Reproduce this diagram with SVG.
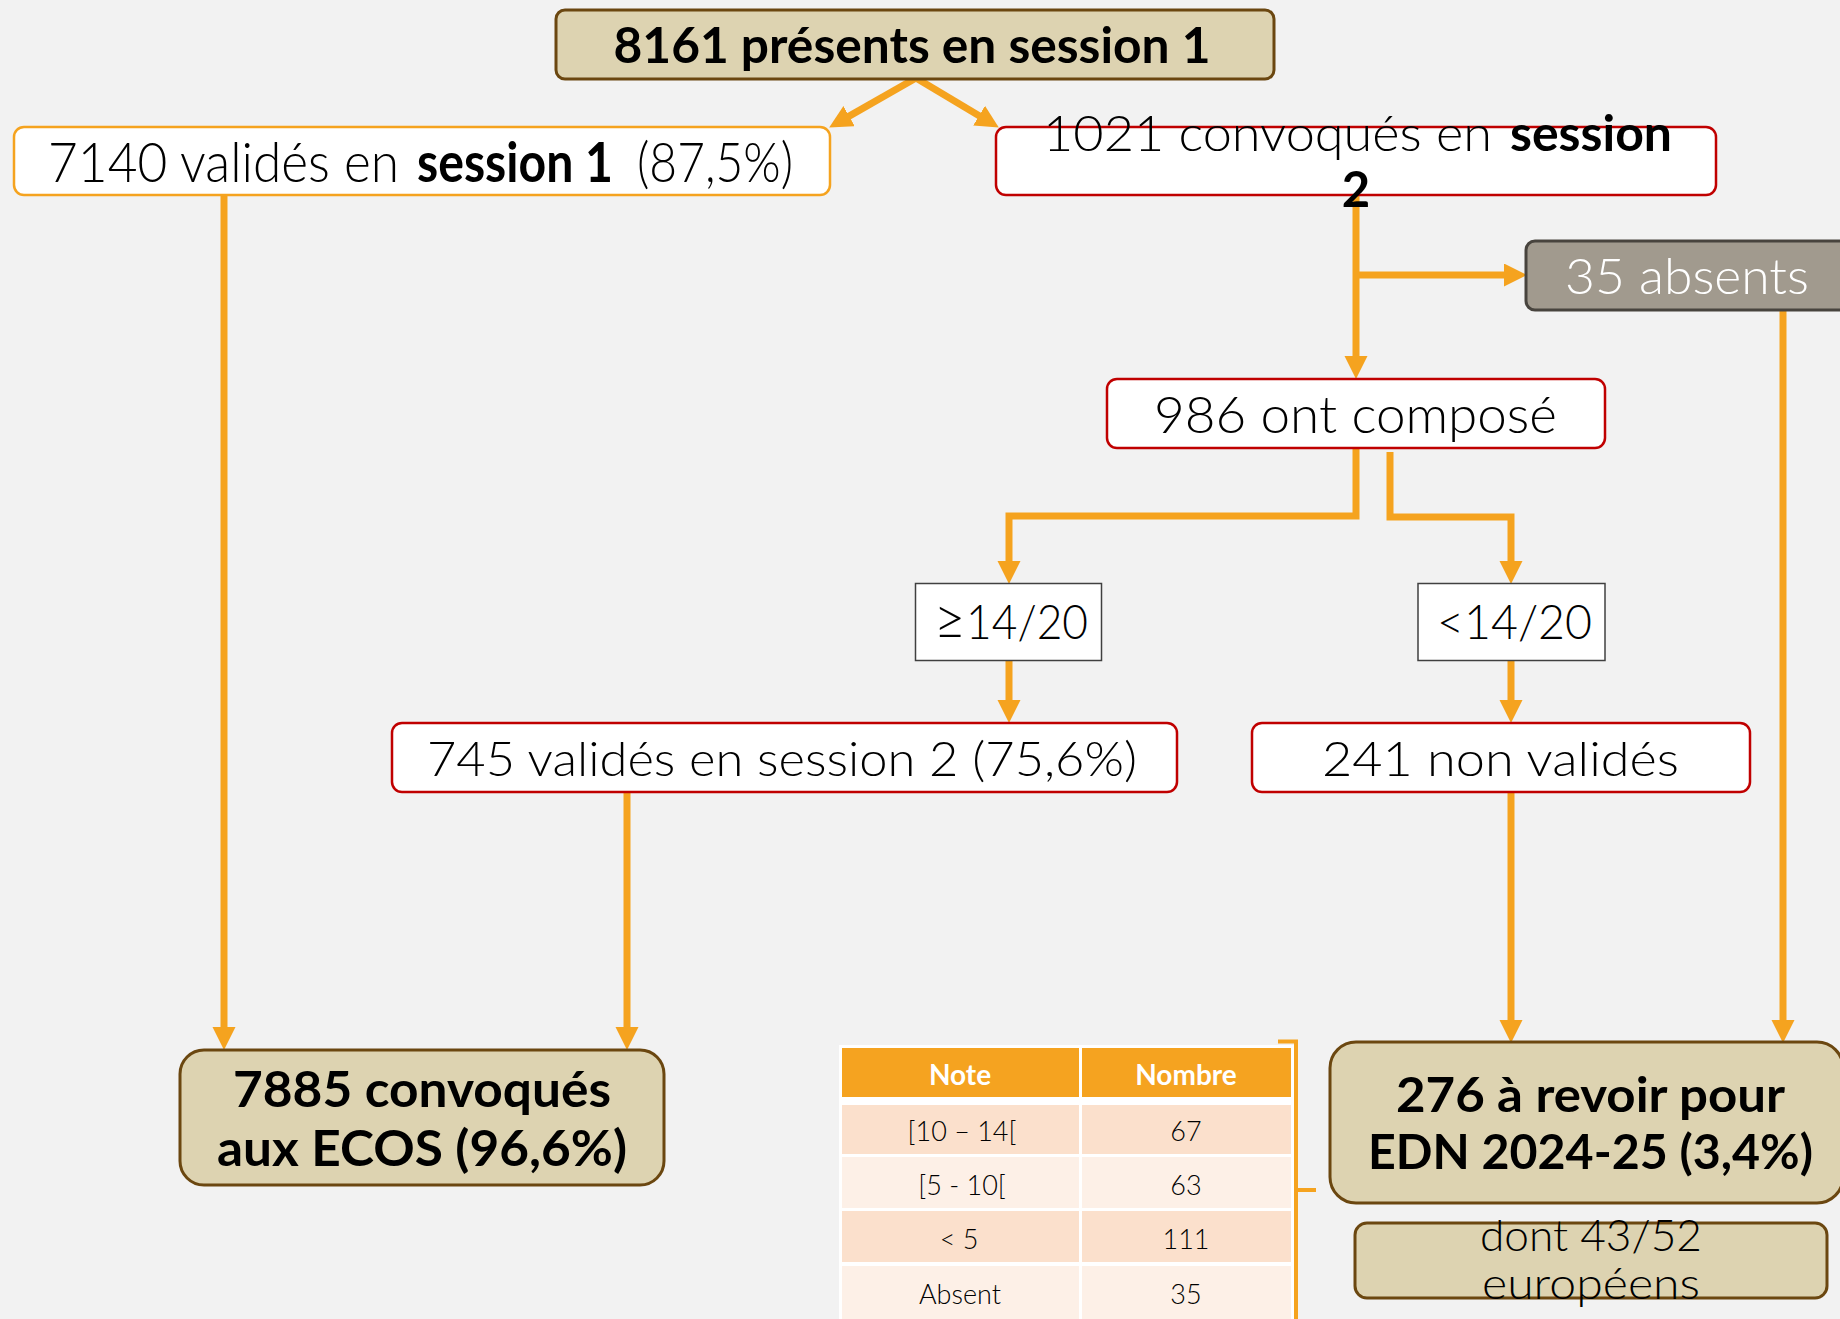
<svg xmlns="http://www.w3.org/2000/svg" width="1840" height="1319" viewBox="0 0 1840 1319">
<style>
.l{font-family:Lato,"Open Sans","Liberation Sans",sans-serif;font-weight:300;fill:#000}
.b{font-family:Lato,"Open Sans","Liberation Sans",sans-serif;font-weight:700;fill:#000}
.tan{fill:#DDD3B1;stroke:#6B4710;stroke-width:3}
.wo{fill:#fff;stroke:#F5A31F;stroke-width:2.5}
.wr{fill:#fff;stroke:#C00000;stroke-width:2.5}
.gr{fill:#A19A8E;stroke:#48443E;stroke-width:3}
.cd{fill:#fff;stroke:#404040;stroke-width:1.5}
.c{fill:none;stroke:#F5A31F;stroke-width:7;stroke-linejoin:miter}
.th{fill:#F5A320}
.pk{fill:#FBE0CC}
.lt{fill:#FDF0E7}
.tt{font-family:Lato,"Open Sans","Liberation Sans",sans-serif;font-weight:300;font-size:27px;fill:#000;text-anchor:middle}
.tb{font-family:Lato,"Open Sans","Liberation Sans",sans-serif;font-weight:700;font-size:28px;fill:#fff;text-anchor:middle}
</style>
<defs>
<marker id="ah" markerUnits="userSpaceOnUse" markerWidth="24" markerHeight="24" refX="2" refY="11.5" orient="auto">
<path d="M0,0 L23,11.5 L0,23 z" fill="#F5A31F"/>
</marker>
</defs>
<rect x="0" y="0" width="1840" height="1319" fill="#F2F2F2"/>

<g id="connectors">
<path class="c" d="M916,78 L847.4,117.1" marker-end="url(#ah)"/>
<path class="c" d="M916,78 L980.8,116.7" marker-end="url(#ah)"/>
<path class="c" d="M224,195 V1029" marker-end="url(#ah)"/>
<path class="c" d="M1356,195 V358" marker-end="url(#ah)"/>
<path class="c" d="M1356,275 H1506" marker-end="url(#ah)"/>
<path class="c" d="M1783,310 V1022" marker-end="url(#ah)"/>
<path class="c" d="M1356,448 V516 H1009 V563" marker-end="url(#ah)"/>
<path class="c" d="M1390,452 V517 H1511 V563" marker-end="url(#ah)"/>
<path class="c" d="M1009,661 V702" marker-end="url(#ah)"/>
<path class="c" d="M1511,661 V702" marker-end="url(#ah)"/>
<path class="c" d="M627,792 V1029" marker-end="url(#ah)"/>
<path class="c" d="M1511,792 V1022" marker-end="url(#ah)"/>
</g>

<g id="n-presents">
<rect class="tan" x="556" y="10" width="718" height="69" rx="9"/>
<text class="b" x="912" y="63" font-size="49" text-anchor="middle" textLength="597" lengthAdjust="spacingAndGlyphs">8161 présents en session 1</text>
</g>

<g id="n-valides1">
<rect class="wo" x="14" y="127" width="816" height="68" rx="10"/>
<text class="l" x="48" y="182" font-size="55" textLength="351" lengthAdjust="spacingAndGlyphs">7140 validés en</text>
<text class="b" x="417" y="182" font-size="55" textLength="196" lengthAdjust="spacingAndGlyphs">session 1</text>
<text class="l" x="637" y="182" font-size="55" textLength="156" lengthAdjust="spacingAndGlyphs">(87,5%)</text>
</g>

<g id="n-convoques2">
<rect class="wr" x="996" y="127" width="720" height="68" rx="10"/>
<text class="l" x="1043" y="151" font-size="49" textLength="449" lengthAdjust="spacingAndGlyphs">1021 convoqués en</text>
<text class="b" x="1510" y="151" font-size="49" textLength="162" lengthAdjust="spacingAndGlyphs">session</text>
<text class="b" x="1356" y="207" font-size="49" text-anchor="middle">2</text>
</g>

<g id="n-absents">
<rect class="gr" x="1526" y="241" width="330" height="69" rx="9"/>
<text class="l" x="1565" y="294" font-size="49" style="fill:#fff" textLength="244" lengthAdjust="spacingAndGlyphs">35 absents</text>
</g>

<g id="n-compose">
<rect class="wr" x="1107" y="379" width="498" height="69" rx="10"/>
<text class="l" x="1154" y="433" font-size="51" textLength="403" lengthAdjust="spacingAndGlyphs">986 ont composé</text>
</g>

<g id="n-sup14">
<rect class="cd" x="915.5" y="583.5" width="186" height="77"/>
<text class="l" x="934" y="639" font-size="48" textLength="154" lengthAdjust="spacingAndGlyphs"><tspan font-size="60">≥</tspan>14/20</text>
</g>

<g id="n-inf14">
<rect class="cd" x="1418" y="583.5" width="187" height="77"/>
<text class="l" x="1437" y="639" font-size="48" textLength="155" lengthAdjust="spacingAndGlyphs">&lt;14/20</text>
</g>

<g id="n-valides2">
<rect class="wr" x="392" y="723" width="785" height="69" rx="10"/>
<text class="l" x="427" y="776" font-size="48" textLength="710" lengthAdjust="spacingAndGlyphs">745 validés en session 2 (75,6%)</text>
</g>

<g id="n-nonvalides">
<rect class="wr" x="1252" y="723" width="498" height="69" rx="10"/>
<text class="l" x="1322" y="776" font-size="48" textLength="357" lengthAdjust="spacingAndGlyphs">241 non validés</text>
</g>

<g id="n-ecos">
<rect class="tan" x="180" y="1050" width="484" height="135" rx="24"/>
<text class="b" x="233" y="1107" font-size="49" textLength="378" lengthAdjust="spacingAndGlyphs">7885 convoqués</text>
<text class="b" x="217" y="1166" font-size="49" textLength="410" lengthAdjust="spacingAndGlyphs">aux ECOS (96,6%)</text>
</g>

<g id="n-revoir">
<rect class="tan" x="1330" y="1042" width="513" height="161" rx="26"/>
<text class="b" x="1396" y="1112" font-size="48" textLength="389" lengthAdjust="spacingAndGlyphs">276 à revoir pour</text>
<text class="b" x="1368" y="1169" font-size="48" textLength="445" lengthAdjust="spacingAndGlyphs">EDN 2024-25 (3,4%)</text>
</g>

<g id="n-europeens">
<rect class="tan" x="1355" y="1223" width="472" height="75" rx="12"/>
<text class="l" x="1480" y="1251" font-size="44" textLength="222" lengthAdjust="spacingAndGlyphs">dont 43/52</text>
<text class="l" x="1482" y="1299" font-size="44" textLength="218" lengthAdjust="spacingAndGlyphs">européens</text>
</g>

<g id="table">
<rect x="839" y="1045" width="455" height="280" fill="#fff"/>
<rect class="th" x="842" y="1048" width="237" height="49"/>
<rect class="th" x="1082" y="1048" width="209" height="49"/>
<rect class="pk" x="842" y="1105" width="237" height="49"/>
<rect class="pk" x="1082" y="1105" width="209" height="49"/>
<rect class="lt" x="842" y="1157" width="237" height="51"/>
<rect class="lt" x="1082" y="1157" width="209" height="51"/>
<rect class="pk" x="842" y="1211" width="237" height="51"/>
<rect class="pk" x="1082" y="1211" width="209" height="51"/>
<rect class="lt" x="842" y="1266" width="237" height="60"/>
<rect class="lt" x="1082" y="1266" width="209" height="60"/>
<text class="tb" x="960" y="1085">Note</text>
<text class="tb" x="1186" y="1085">Nombre</text>
<text class="tt" x="962" y="1141">[10 – 14[</text>
<text class="tt" x="1186" y="1141">67</text>
<text class="tt" x="962" y="1195">[5 - 10[</text>
<text class="tt" x="1186" y="1195">63</text>
<text class="tt" x="959" y="1249">&lt; 5</text>
<text class="tt" x="1186" y="1249">111</text>
<text class="tt" x="960" y="1304">Absent</text>
<text class="tt" x="1186" y="1304">35</text>
<path d="M1278,1041.5 H1296 V1325 M1296,1190 H1316" fill="none" stroke="#F5A31F" stroke-width="4"/>
</g>
</svg>
